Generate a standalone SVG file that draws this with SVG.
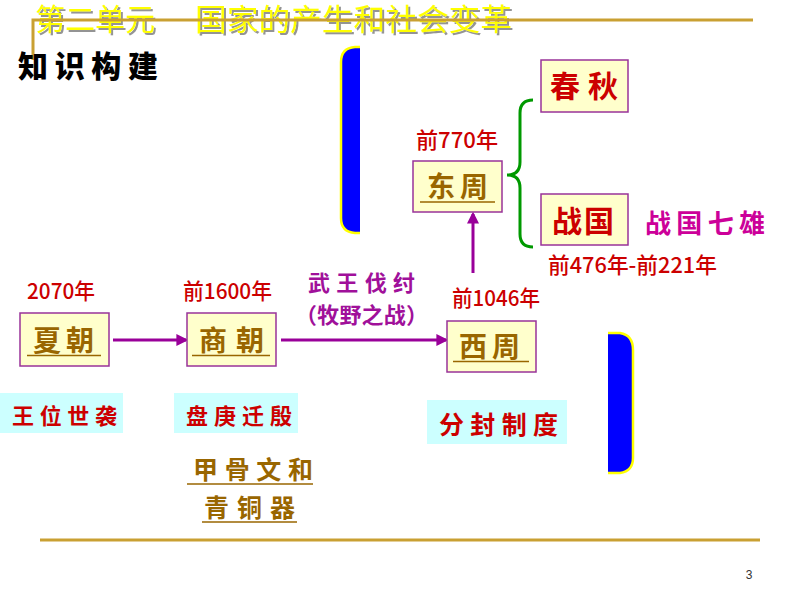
<svg xmlns="http://www.w3.org/2000/svg" width="800" height="600" viewBox="0 0 800 600">
<defs>
<style>
.cjk{font-family:"Noto Sans CJK SC","Noto Sans",sans-serif}
.box{fill:#FFFFCC;stroke:#993399;stroke-width:1.5}
.lbl{fill:#CCFFFF}
.bt{font-size:28px;font-weight:700;fill:#996600}
.rt{font-size:30px;font-weight:700;fill:#CC0000}
.yr{font-size:22px;font-weight:500;fill:#CC0000}
.red{font-size:22px;font-weight:700;fill:#CC0000}
.ul{stroke:#996600;stroke-width:1.5}
.gold{stroke:#C9A032;stroke-width:3;fill:none}
.conn{stroke:#990099;stroke-width:3;fill:none;marker-end:url(#ah)}
</style>
<filter id="sh" x="-5%" y="-20%" width="110%" height="150%">
<feDropShadow dx="2" dy="2" stdDeviation="0.6" flood-color="#888888" flood-opacity="0.9"/>
</filter>
<marker id="ah" viewBox="0 0 10 10" refX="8" refY="5" markerWidth="4" markerHeight="4" orient="auto">
<path d="M0,0 L10,5 L0,10 Z" fill="#990099"/>
</marker>
</defs>
<rect width="800" height="600" fill="#FFFFFF"/>

<g id="title" filter="url(#sh)">
<text class="cjk" x="35" y="30" font-size="30" fill="#FFFF00" textLength="120" lengthAdjust="spacingAndGlyphs">第二单元</text>
<text class="cjk" x="195" y="30" font-size="30" fill="#FFFF00" textLength="317" lengthAdjust="spacingAndGlyphs">国家的产生和社会变革</text>
</g>
<g id="frame">
<path class="gold" d="M33,60 L33,20 L753,20"/>
<line class="gold" x1="40" y1="540" x2="760" y2="540"/>
<text x="749" y="579" font-family="Liberation Sans, sans-serif" font-size="12" fill="#333333" text-anchor="middle">3</text>
</g>
<g id="heading">
<text class="cjk" x="18" y="77" font-size="30" font-weight="900" fill="#000000" textLength="140" lengthAdjust="spacing">知识构建</text>
</g>

<g id="bracket-left">
<path d="M360,47 L355,47 Q341,48 341,62 L341,218 Q341,232 355,233 L360,233 Z" fill="#0000FF"/>
<path d="M360,47 L355,47 Q341,48 341,62 L341,218 Q341,232 355,233 L360,233" fill="none" stroke="#FFFF00" stroke-width="2.5"/>
</g>
<g id="bracket-right">
<path d="M608,333 L620,333 Q633,335 633,350 L633,458 Q633,471 620,473 L608,473 Z" fill="#0000FF"/>
<path d="M608,333 L620,333 Q633,335 633,350 L633,458 Q633,471 620,473 L608,473" fill="none" stroke="#FFFF00" stroke-width="2.5"/>
</g>

<g id="connectors">
<line class="conn" x1="113" y1="340" x2="186" y2="340"/>
<line class="conn" x1="281" y1="340" x2="446" y2="340"/>
<line class="conn" x1="473" y1="273" x2="473" y2="214"/>
<path d="M533,100 Q520,100 520,113 L520,162 Q520,175 507,175 Q520,175 520,188 L520,234 Q520,247 533,247" fill="none" stroke="#009900" stroke-width="3"/>
</g>

<g id="xia">
<rect class="box" x="20" y="313" width="89" height="53"/>
<text class="cjk bt" x="33" y="351" textLength="61" lengthAdjust="spacing">夏朝</text>
<line class="ul" x1="27" y1="355.5" x2="101" y2="355.5"/>
<text class="cjk yr" x="27" y="299" textLength="68" lengthAdjust="spacingAndGlyphs">2070年</text>
</g>
<g id="shang">
<rect class="box" x="187" y="313" width="89" height="53"/>
<text class="cjk bt" x="199" y="351" textLength="65" lengthAdjust="spacing">商朝</text>
<line class="ul" x1="192" y1="355.5" x2="270" y2="355.5"/>
<text class="cjk yr" x="183" y="299" textLength="89" lengthAdjust="spacingAndGlyphs">前1600年</text>
</g>
<g id="xizhou">
<rect class="box" x="447" y="321" width="89" height="51"/>
<text class="cjk bt" x="459" y="357" textLength="61" lengthAdjust="spacing">西周</text>
<line class="ul" x1="453" y1="361.5" x2="529" y2="361.5"/>
<text class="cjk yr" x="452" y="306" textLength="88" lengthAdjust="spacingAndGlyphs">前1046年</text>
</g>
<g id="dongzhou">
<rect class="box" x="413" y="161" width="89" height="51"/>
<text class="cjk bt" x="427" y="197" textLength="61" lengthAdjust="spacing">东周</text>
<line class="ul" x1="420" y1="202" x2="495" y2="202"/>
<text class="cjk yr" x="416" y="148" textLength="82" lengthAdjust="spacingAndGlyphs">前770年</text>
</g>
<g id="chunqiu">
<rect class="box" x="541" y="60" width="87" height="52"/>
<text class="cjk rt" x="550" y="97" textLength="68" lengthAdjust="spacing">春秋</text>
</g>
<g id="zhanguo">
<rect class="box" x="541" y="194" width="87" height="51"/>
<text class="cjk rt" x="552" y="232" textLength="62" lengthAdjust="spacing">战国</text>
<text class="cjk" x="645" y="233" font-size="26" font-weight="700" fill="#CC0099" textLength="120" lengthAdjust="spacing">战国七雄</text>
<text class="cjk yr" x="548" y="273" textLength="169" lengthAdjust="spacingAndGlyphs">前476年-前221年</text>
</g>
<g id="wuwang">
<text class="cjk" x="308" y="291" font-size="22" font-weight="700" fill="#A0109A" textLength="107" lengthAdjust="spacing">武王伐纣</text>
<text class="cjk" x="295" y="323" font-size="22" font-weight="700" fill="#A0109A" textLength="133" lengthAdjust="spacing">（牧野之战）</text>
</g>
<g id="wangwei">
<rect class="lbl" x="0" y="393" width="123" height="40"/>
<text class="cjk red" x="12" y="424" textLength="105" lengthAdjust="spacing">王位世袭</text>
</g>
<g id="pangeng">
<rect class="lbl" x="174" y="393" width="124" height="40"/>
<text class="cjk red" x="186" y="424" textLength="106" lengthAdjust="spacing">盘庚迁殷</text>
</g>
<g id="fenfeng">
<rect class="lbl" x="427" y="400" width="140" height="44"/>
<text class="cjk" x="439" y="434" font-size="25" font-weight="700" fill="#CC0000" textLength="119" lengthAdjust="spacing">分封制度</text>
</g>
<g id="jiagu">
<text class="cjk" x="193" y="479" font-size="25" font-weight="700" fill="#996600" textLength="120" lengthAdjust="spacing">甲骨文和</text>
<line class="ul" x1="187" y1="484" x2="313" y2="484"/>
<text class="cjk" x="204" y="517" font-size="25" font-weight="700" fill="#996600" textLength="91" lengthAdjust="spacing">青铜器</text>
<line class="ul" x1="202" y1="522" x2="297" y2="522"/>
</g>
</svg>
